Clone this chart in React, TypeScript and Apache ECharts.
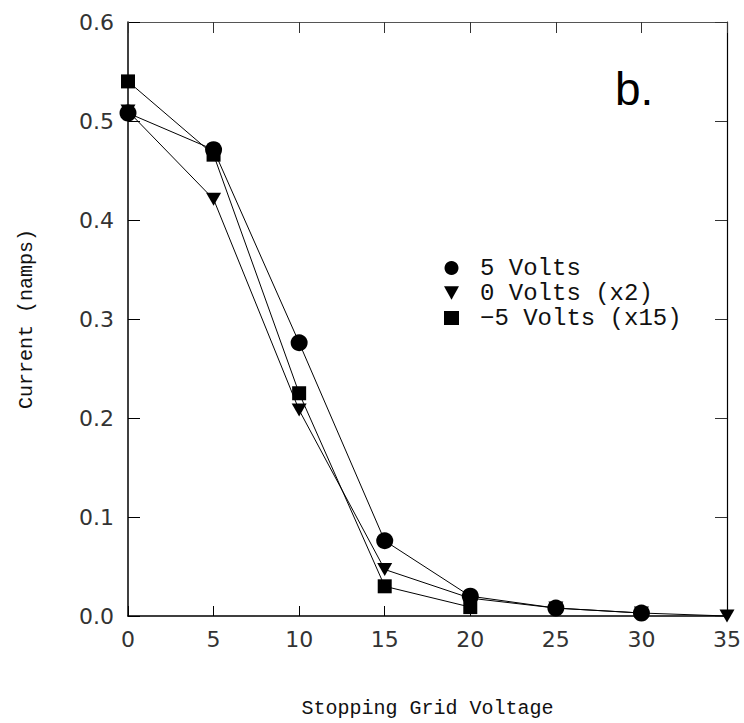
import React, { useEffect, useRef } from "react";
import * as echarts from "echarts";

const xPlus5 = [0, 5, 10, 15, 20, 25, 30];
const yPlus5 = [0.508, 0.471, 0.276, 0.076, 0.02, 0.008, 0.003];
const xZero = [0, 5, 10, 15, 20, 25, 30, 35];
const yZero = [0.51, 0.421, 0.208, 0.047, 0.018, 0.008, 0.003, 0.0];
const xMinus5 = [0, 5, 10, 15, 20];
const yMinus5 = [0.54, 0.466, 0.225, 0.03, 0.009];
const seriesNames = ["5 Volts", "0 Volts (x2)", "\u22125 Volts (x15)"];

const TRI = "path://M0,0L10,0L5,9Z";

export default function App() {
  const ref = useRef<HTMLDivElement>(null);
  useEffect(() => {
    const chart = echarts.init(ref.current!, null, { renderer: "svg" });
    const tickFont = { fontFamily: "DejaVu Sans", fontSize: 22, color: "#333" };
    const pair = (xs: number[], ys: number[]) => xs.map((x, i) => [x, ys[i]]);
    const common = {
      type: "line",
      clip: false,
      lineStyle: { color: "#000", width: 1 },
      itemStyle: { color: "#000" },
      emphasis: { disabled: true },
    };
    chart.setOption({
      animation: false,
      backgroundColor: "#fff",
      grid: { left: 128, right: 17, top: 22, bottom: 106 },
      legend: {
        orient: "vertical",
        left: 444,
        top: 256,
        padding: 0,
        itemGap: 1,
        itemWidth: 15,
        itemHeight: 14,
        data: [
          { name: seriesNames[0], icon: "circle" },
          { name: seriesNames[1], icon: TRI },
          { name: seriesNames[2], icon: "rect" },
        ],
        textStyle: {
          fontFamily: "Liberation Mono",
          fontSize: 24,
          lineHeight: 18,
          color: "#111",
          padding: [0, 0, 0, 16],
        },
      },
      xAxis: [
        {
          type: "value",
          min: 0,
          max: 35,
          interval: 5,
          position: "bottom",
          name: "Stopping Grid Voltage",
          nameLocation: "middle",
          nameGap: 82,
          nameTextStyle: { fontFamily: "Liberation Mono", fontSize: 20, color: "#111" },
          axisLine: { onZero: false, lineStyle: { color: "#000", width: 1.5 } },
          axisTick: { inside: true, length: 10, lineStyle: { color: "#000" } },
          axisLabel: { ...tickFont, margin: 12 },
          splitLine: { show: false },
        },
        {
          type: "value",
          min: 0,
          max: 35,
          interval: 5,
          position: "top",
          axisLine: { show: true, onZero: false, lineStyle: { color: "#555", width: 1 } },
          axisTick: { inside: true, length: 11, lineStyle: { color: "#333" } },
          axisLabel: { show: false },
          splitLine: { show: false },
        },
      ],
      yAxis: [
        {
          type: "value",
          min: 0,
          max: 0.6,
          interval: 0.1,
          position: "left",
          name: "Current (namps)",
          nameLocation: "middle",
          nameGap: 92,
          nameTextStyle: { fontFamily: "Liberation Mono", fontSize: 20, color: "#111" },
          axisLine: { show: true, onZero: false, lineStyle: { color: "#000", width: 1.5 } },
          axisTick: { show: true, inside: true, length: 12, lineStyle: { color: "#000" } },
          axisLabel: { ...tickFont, margin: 14, formatter: (v: number) => v.toFixed(1) },
          splitLine: { show: false },
        },
        {
          type: "value",
          min: 0,
          max: 0.6,
          interval: 0.1,
          position: "right",
          axisLine: { show: true, onZero: false, lineStyle: { color: "#000", width: 1.2 } },
          axisTick: { show: true, inside: true, length: 12, lineStyle: { color: "#333" } },
          axisLabel: { show: false },
          splitLine: { show: false },
        },
      ],
      graphic: [
        {
          type: "text",
          left: 615,
          top: 66,
          style: {
            text: "b.",
            font: "46px 'Liberation Sans'",
            fill: "#000",
          },
        },
      ],
      series: [
        {
          ...common,
          name: seriesNames[1],
          data: pair(xZero, yZero),
          symbol: TRI,
          symbolSize: [15, 13],
          z: 2,
        },
        {
          ...common,
          name: seriesNames[2],
          data: pair(xMinus5, yMinus5),
          symbol: "rect",
          symbolSize: 14,
          z: 3,
        },
        {
          ...common,
          name: seriesNames[0],
          data: pair(xPlus5, yPlus5),
          symbol: "circle",
          symbolSize: 17,
          z: 4,
        },
      ],
    });
    return () => chart.dispose();
  }, []);
  return <div ref={ref} style={{ width: 744, height: 723, position: "absolute", left: 0, top: 0 }} />;
}
